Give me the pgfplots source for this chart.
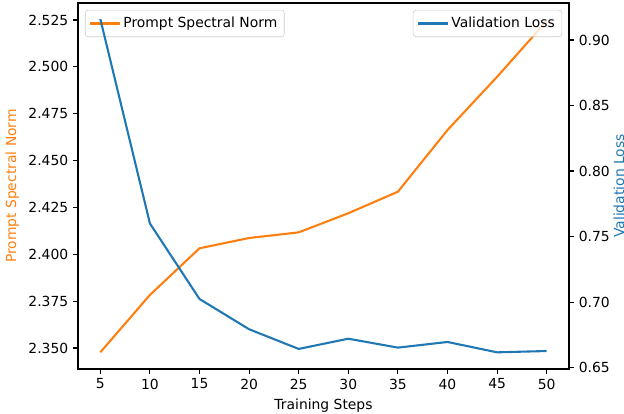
\documentclass[border=0pt]{standalone}
\usepackage{fontspec}
\setmainfont{DejaVu Sans}
\usepackage{pgfplots}
\pgfplotsset{compat=1.18}
\definecolor{mplorange}{HTML}{FF7F0E}
\definecolor{mplblue}{HTML}{1F77B4}
\begin{document}
\begin{tikzpicture}
\pgfplotsset{
  every axis/.append style={
    scale only axis, width=353.5pt, height=263.5pt,
    xmin=2.75, xmax=52.25,
    axis line style={line width=0.8pt},
    every tick/.style={black, line width=0.8pt},
    major tick length=3.5pt, tick align=outside,
    /pgf/number format/assume math mode=true,
    font=\fontsize{10}{12}\selectfont,
    scaled y ticks=false,
    legend cell align=left,
    legend image code/.code={\draw[#1] (0pt,0pt) -- (21pt,0pt);},
    legend style={draw=black!20, rounded corners=2pt, fill=white, fill opacity=0.8, text opacity=1,
      inner xsep=3pt, inner ysep=3pt, font=\fontsize{10}{12}\selectfont,
      /tikz/every even column/.append style={column sep=2pt}},
  }
}
\begin{axis}[
  name=ax,
  ymin=2.3388, ymax=2.5341,
  xtick pos=bottom, ytick pos=left,
  xtick={5,10,15,20,25,30,35,40,45,50},
  ytick={2.350,2.375,2.400,2.425,2.450,2.475,2.500,2.525},
  yticklabel={\pgfmathprintnumber[fixed,fixed zerofill,precision=3]{\tick}},
  ylabel={Prompt Spectral Norm}, ylabel style={text=mplorange},
  xlabel={Training Steps},
  legend style={at={(axis description cs:0,1)}, anchor=north west, xshift=5pt, yshift=-5pt},
]
\addplot[color=mplorange, line width=1.5pt] coordinates {
 (5,2.3477) (10,2.3783) (15,2.4032) (20,2.4087) (25,2.4117)
 (30,2.4219) (35,2.4334) (40,2.4663) (45,2.4947) (50,2.5245)};
\addlegendentry{Prompt Spectral Norm}
\coordinate (SW) at (rel axis cs:0,0);
\coordinate (NE) at (rel axis cs:1,1);
\end{axis}
\begin{axis}[
  ymin=0.649, ymax=0.9282,
  axis y line*=right, axis x line=none,
  ytick={0.65,0.70,0.75,0.80,0.85,0.90},
  yticklabel={\pgfmathprintnumber[fixed,fixed zerofill,precision=2]{\tick}},
  ylabel={Validation Loss}, ylabel style={text=mplblue, yshift=4pt},
  legend style={at={(axis description cs:1,1)}, anchor=north east, xshift=-5pt, yshift=-5pt},
]
\addplot[color=mplblue, line width=1.5pt] coordinates {
 (5,0.916) (10,0.760) (15,0.7024) (20,0.6793) (25,0.6643)
 (30,0.6721) (35,0.6653) (40,0.6696) (45,0.6617) (50,0.6627)};
\addlegendentry{Validation Loss}
\end{axis}
\pgfresetboundingbox
\path[use as bounding box] ([xshift=-56.16pt,yshift=-32.4pt]SW) rectangle ([xshift=39.6pt,yshift=2.16pt]NE);
\end{tikzpicture}
\end{document}
